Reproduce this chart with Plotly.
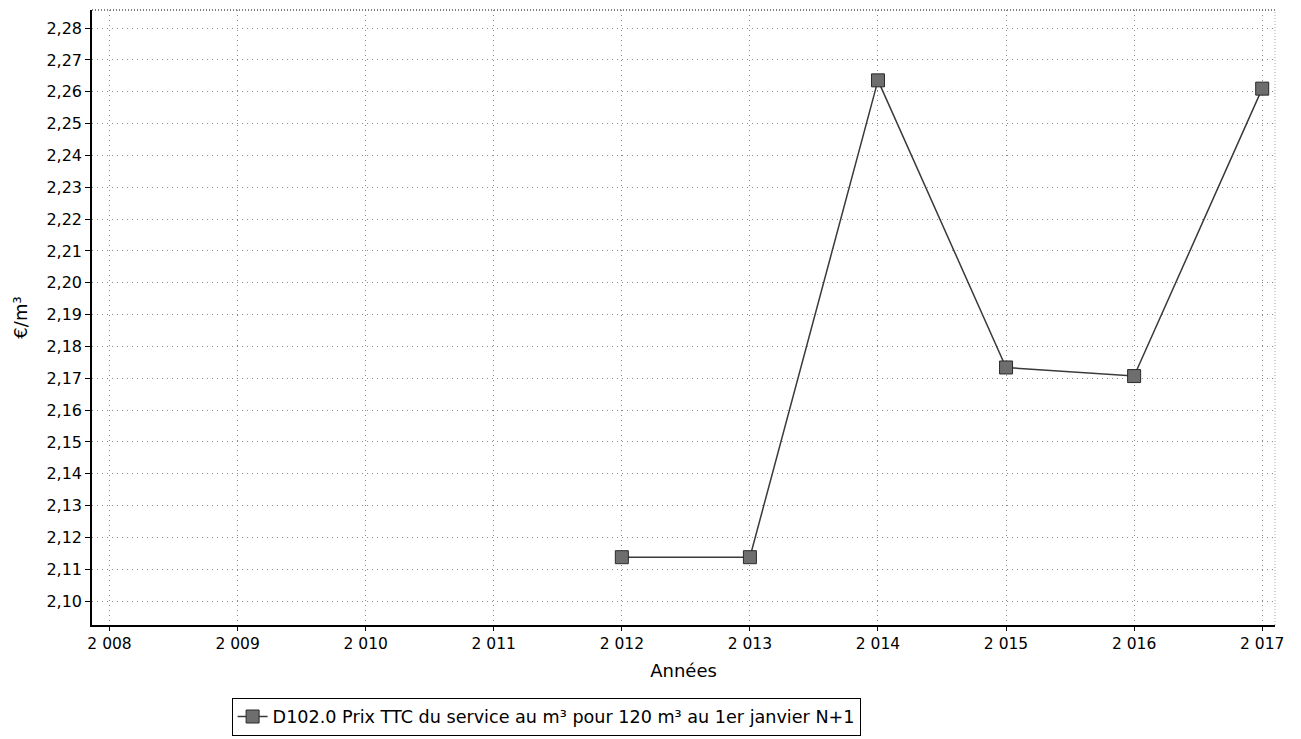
import plotly.graph_objects as go

years = [2012, 2013, 2014, 2015, 2016, 2017]
prices = [2.1138, 2.1138, 2.2636, 2.1734, 2.1707, 2.2610]
x_ticks = [2008, 2009, 2010, 2011, 2012, 2013, 2014, 2015, 2016, 2017]
x_tick_labels = ["2 008", "2 009", "2 010", "2 011", "2 012", "2 013", "2 014", "2 015", "2 016", "2 017"]
y_ticks = [round(2.10 + 0.01 * i, 2) for i in range(19)]
y_tick_labels = [f"{v:.2f}".replace(".", ",") for v in y_ticks]
series_name = "D102.0 Prix TTC du service au m³ pour 120 m³ au 1er janvier N+1"

fig = go.Figure()
fig.add_trace(go.Scatter(
    x=years, y=prices, mode="lines+markers", name=series_name,
    line=dict(color="#3a3a3a", width=1.5),
    marker=dict(symbol="square", size=13, color="#6e6e6e",
                line=dict(color="#2a2a2a", width=1)),
))

font = "DejaVu Sans, sans-serif"
grid_dash = "1px,4px"
fig.update_layout(
    width=1301, height=739,
    margin=dict(l=84, r=34, t=2, b=122, autoexpand=False),
    paper_bgcolor="white", plot_bgcolor="white",
    font=dict(family=font, size=16, color="black"),
    showlegend=True,
    legend=dict(x=0.118, y=-0.118, xanchor="left", yanchor="top",
                orientation="h", bordercolor="black", borderwidth=1,
                font=dict(size=17.6, family=font), bgcolor="white",
                itemwidth=30),
    xaxis=dict(
        range=[2007.863, 2017.10], tickvals=x_ticks, ticktext=x_tick_labels,
        showgrid=True, gridcolor="#8a8a8a", griddash=grid_dash, gridwidth=1,
        showline=True, linecolor="black", linewidth=1.5, mirror=False,
        ticks="outside", ticklen=4, tickcolor="black",
        zeroline=False, automargin=False,
        title=dict(text="Années", font=dict(size=18, family=font), standoff=12),
        tickfont=dict(size=15.5, family=font),
    ),
    yaxis=dict(
        range=[2.0925, 2.2857], tickvals=y_ticks, ticktext=y_tick_labels,
        showgrid=True, gridcolor="#8a8a8a", griddash=grid_dash, gridwidth=1,
        showline=True, linecolor="black", linewidth=1.5, mirror=False,
        ticks="outside", ticklen=5, tickcolor="black",
        zeroline=False, automargin=False,
        title=dict(text="€/m³", font=dict(size=18, family=font), standoff=14),
        tickfont=dict(size=16, family=font),
    ),
)
# light border on top and right
fig.add_shape(type="line", xref="paper", yref="paper", x0=0, x1=1, y0=1, y1=1,
              line=dict(color="#555555", width=1.5, dash="1px,2px"))
fig.add_shape(type="line", xref="paper", yref="paper", x0=1, x1=1, y0=0, y1=1,
              line=dict(color="#aaaaaa", width=1, dash="1px,2px"))

fig.write_html("out.html")
